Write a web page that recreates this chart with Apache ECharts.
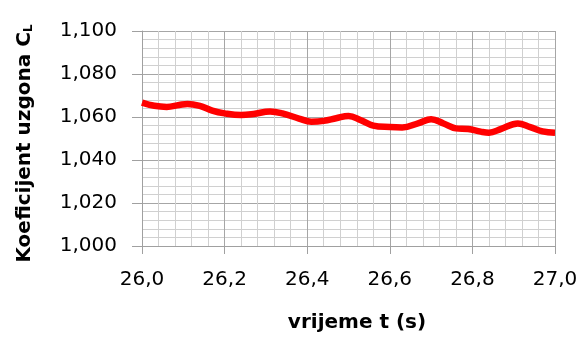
<!DOCTYPE html>
<html>
<head>
<meta charset="utf-8">
<script src="https://cdn.jsdelivr.net/npm/echarts@6/dist/echarts.min.js"></script>
<style>
  html, body { margin: 0; padding: 0; background: #ffffff; }
  #chart { width: 587px; height: 343px; }
</style>
</head>
<body>
<div id="chart"></div>
<script>
// Time samples (s) and lift coefficient values
const timeS = [26.00, 26.03, 26.06, 26.09, 26.11, 26.14, 26.17, 26.20, 26.24, 26.27,
               26.31, 26.34, 26.38, 26.41, 26.44, 26.47, 26.50, 26.53, 26.56, 26.60,
               26.63, 26.67, 26.70, 26.73, 26.76, 26.79, 26.82, 26.84, 26.87, 26.91,
               26.94, 26.97, 27.00];
const liftCoef = [1.0667, 1.0652, 1.0647, 1.0656, 1.0661, 1.0652, 1.0630, 1.0617, 1.0609, 1.0614,
                  1.0626, 1.0617, 1.0593, 1.0578, 1.0582, 1.0594, 1.0605, 1.0585, 1.0560, 1.0553,
                  1.0551, 1.0572, 1.0590, 1.0570, 1.0547, 1.0544, 1.0532, 1.0527, 1.0545, 1.0570,
                  1.0553, 1.0533, 1.0527];

const xMin = 26.0, xMax = 27.0, xStep = 0.2;
const yMin = 1.0, yMax = 1.1, yStep = 0.02;

const fmtComma = (v, d) => v.toFixed(d).replace('.', ',');
const FONT = '"DejaVu Sans", "Liberation Sans", sans-serif';

const chart = echarts.init(document.getElementById('chart'), null, { renderer: 'canvas' });
chart.setOption({
  animation: false,
  backgroundColor: '#ffffff',
  grid: { left: 142, top: 31, right: 32, bottom: 97, containLabel: false },
  xAxis: {
    type: 'value',
    min: xMin, max: xMax, interval: xStep,
    name: 'vrijeme t (s)',
    nameLocation: 'middle',
    nameGap: 67,
    nameMoveOverlap: false,
    nameTextStyle: { fontFamily: FONT, fontSize: 20, fontWeight: 'bold', color: '#000', padding: [0, 0, 0, 17] },
    axisLine: { show: true, lineStyle: { color: '#a0a0a0', width: 1 } },
    axisTick: { show: true, length: 8, lineStyle: { color: '#a0a0a0' } },
    axisLabel: { margin: 24, fontFamily: FONT, fontSize: 20, color: '#000', formatter: v => fmtComma(v, 1) },
    splitLine: { show: true, lineStyle: { color: '#a6a6a6', width: 1 } },
    minorTick: { show: false, splitNumber: 5 },
    minorSplitLine: { show: true, lineStyle: { color: '#d0d0d0', width: 1 } }
  },
  yAxis: {
    type: 'value',
    min: yMin, max: yMax, interval: yStep,
    name: '{t|Koeficijent uzgona C}{s|L}',
    nameLocation: 'middle',
    nameGap: 107,
    nameRotate: 90,
    nameMoveOverlap: false,
    nameTextStyle: {
      padding: [0, 10, 0, 0],
      rich: {
        t: { fontFamily: FONT, fontSize: 20, fontWeight: 'bold', color: '#000' },
        s: { fontFamily: FONT, fontSize: 12, fontWeight: 'bold', color: '#000', verticalAlign: 'bottom', padding: [6, 0, 0, 0] }
      }
    },
    axisLine: { show: true, lineStyle: { color: '#a0a0a0', width: 1 } },
    axisTick: { show: true, length: 10, lineStyle: { color: '#a0a0a0' } },
    axisLabel: { margin: 25, fontFamily: FONT, fontSize: 20, color: '#000', formatter: v => fmtComma(v, 3) },
    splitLine: { show: true, lineStyle: { color: '#a6a6a6', width: 1 } },
    minorTick: { show: false, splitNumber: 5 },
    minorSplitLine: { show: true, lineStyle: { color: '#d0d0d0', width: 1 } }
  },
  series: [{
    type: 'line',
    data: timeS.map((t, i) => [t, liftCoef[i]]),
    smooth: 0.4,
    symbol: 'none',
    lineStyle: { color: '#ff0000', width: 6.5 }
  }]
});
</script>
</body>
</html>
